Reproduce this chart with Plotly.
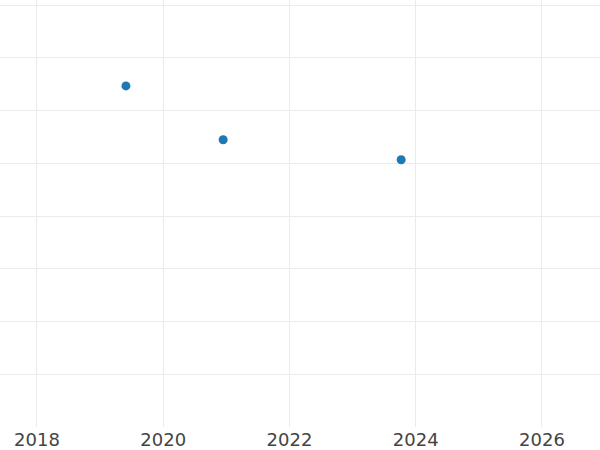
import plotly.graph_objects as go

years = [2019.41, 2020.95, 2023.77]
values = [6.47, 5.45, 5.07]
x_ticks = [2018, 2020, 2022, 2024, 2026]

fig = go.Figure(
    go.Scatter(
        x=years, y=values, mode="markers",
        marker=dict(color="#1f77b4", size=9),
        showlegend=False,
    )
)
fig.update_layout(
    width=600, height=450,
    margin=dict(l=0, r=0, t=0, b=23),
    paper_bgcolor="white", plot_bgcolor="white",
    font=dict(family="DejaVu Sans", size=18, color="#444444"),
)
fig.update_xaxes(
    range=[2017.415, 2026.92], tickvals=x_ticks, ticktext=[str(t) for t in x_ticks],
    showgrid=True, gridcolor="#ebebeb", gridwidth=1, zeroline=False, showline=False,
)
fig.update_yaxes(
    range=[0, 8.10], dtick=1, showticklabels=False,
    showgrid=True, gridcolor="#ebebeb", gridwidth=1, zeroline=False, showline=False,
)
fig.write_html(
    "out.html",
    config={"displayModeBar": False},
    post_script="document.body.style.margin='0';document.body.style.overflow='hidden';",
)
